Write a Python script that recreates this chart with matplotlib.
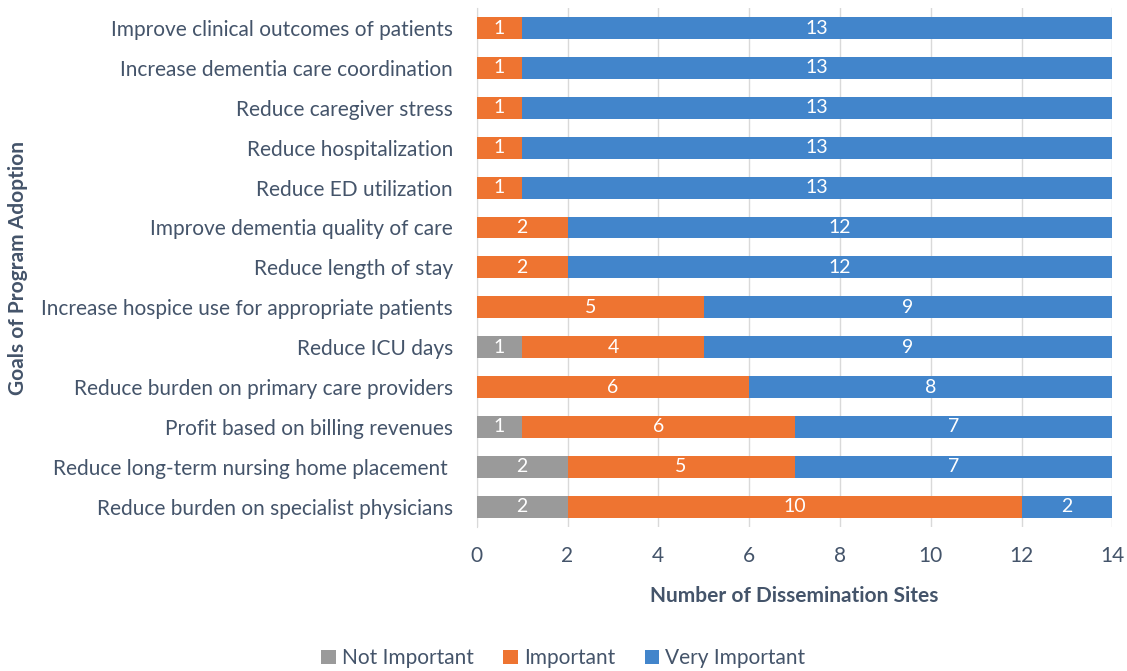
import numpy as np
import matplotlib
matplotlib.use("Agg")
import matplotlib.pyplot as plt

plt.rcParams['font.family'] = ['Lato', 'DejaVu Sans']

# goals, listed from top to bottom
goals = [
    "Improve clinical outcomes of patients",
    "Increase dementia care coordination",
    "Reduce caregiver stress",
    "Reduce hospitalization",
    "Reduce ED utilization",
    "Improve dementia quality of care",
    "Reduce length of stay",
    "Increase hospice use for appropriate patients",
    "Reduce ICU days",
    "Reduce burden on primary care providers",
    "Profit based on billing revenues",
    "Reduce long-term nursing home placement ",
    "Reduce burden on specialist physicians",
]
not_important = [0, 0, 0, 0, 0, 0, 0, 0, 1, 0, 1, 2, 2]
important = [1, 1, 1, 1, 1, 2, 2, 5, 4, 6, 6, 5, 10]
very_important = [13, 13, 13, 13, 13, 12, 12, 9, 9, 8, 7, 7, 2]

txt = "#44546A"
series = [
    ("Not Important", not_important, "#9A9A9A"),
    ("Important", important, "#EE7431"),
    ("Very Important", very_important, "#4285CB"),
]

fig = plt.figure(figsize=(11.27, 6.71), dpi=100)
ax = fig.add_axes([0.423, 0.215, 0.564, 0.773])

y = np.arange(len(goals))[::-1]
left = np.zeros(len(goals))
for name, vals, col in series:
    vals = np.array(vals, dtype=float)
    bars = ax.barh(y, vals, left=left, height=0.55, color=col, label=name, zorder=3)
    for b, v in zip(bars, vals):
        if v > 0:
            ax.text(b.get_x() + b.get_width() / 2, b.get_y() + b.get_height() / 2,
                    "%d" % v, ha='center', va='center', color='white', fontsize=14, zorder=4)
    left += vals

ax.set_xlim(0, 14)
ax.set_ylim(-0.5, len(goals) - 0.5)
ax.set_xticks(range(0, 15, 2))
ax.set_yticks(y)
ax.set_yticklabels(goals)
ax.tick_params(axis='both', length=0, labelsize=15, colors=txt)
ax.tick_params(axis='x', pad=14)
ax.tick_params(axis='y', pad=17)
ax.grid(axis='x', color='#D9D9D9', linewidth=1, zorder=0)
for s in ['top', 'right', 'bottom']:
    ax.spines[s].set_visible(False)
ax.spines['left'].set_color('#D9D9D9')

ax.set_xlabel("Number of Dissemination Sites", fontsize=15, fontweight='bold', color=txt, labelpad=14)
fig.text(0.016, 0.6, "Goals of Program Adoption", rotation=90, ha='center', va='center',
         fontsize=15, fontweight='bold', color=txt)

leg = fig.legend(loc='center', bbox_to_anchor=(0.5, 0.019), ncol=3, frameon=False,
                 fontsize=15, handlelength=0.7, handleheight=0.7, handletextpad=0.3,
                 columnspacing=1.4)
for t in leg.get_texts():
    t.set_color(txt)

fig.savefig("out.png", dpi=100)
